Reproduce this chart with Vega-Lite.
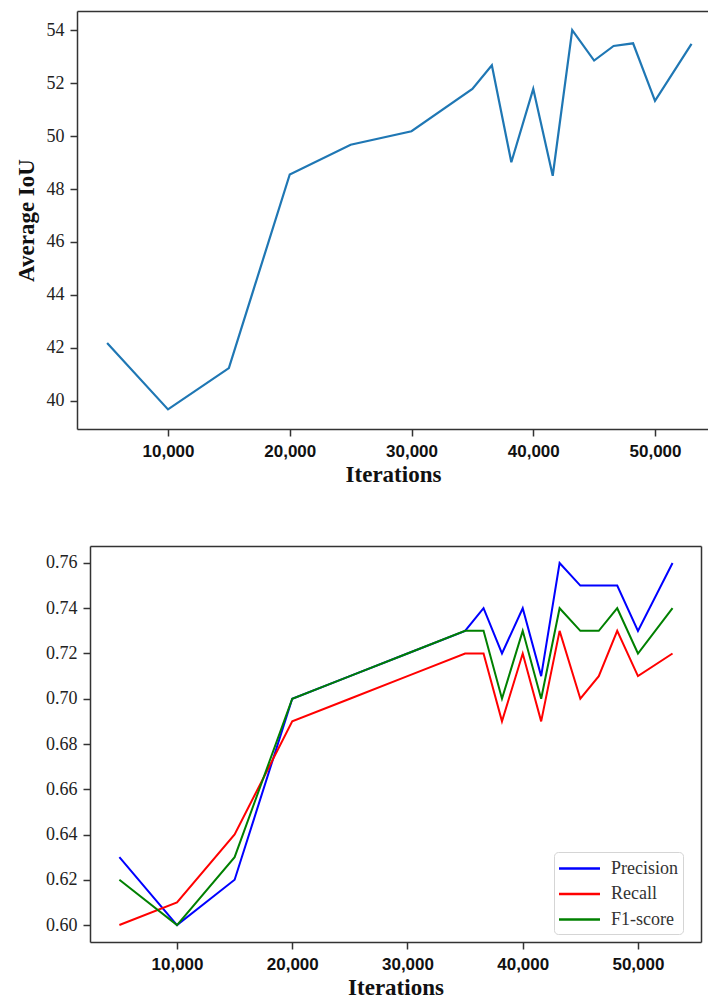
{
  "$schema": "https://vega.github.io/schema/vega-lite/v6.json",
  "background": "white",
  "padding": {"left": 15, "top": 11, "right": 0, "bottom": 0},
  "spacing": 117,
  "bounds": "flush",
  "config": {
    "view": {"stroke": null},
    "axis": {
      "domainColor": "#333333",
      "domainWidth": 1.5,
      "tickColor": "#333333",
      "tickWidth": 1.5,
      "tickSize": 7,
      "grid": false,
      "labelColor": "#222222",
      "titleColor": "#111111"
    }
  },
  "vconcat": [
    {
      "width": 632,
      "height": 418,
      "data": {
        "values": [
          {"iter": 5000, "iou": 42.19},
          {"iter": 10000, "iou": 39.68},
          {"iter": 15000, "iou": 41.24},
          {"iter": 20000, "iou": 48.55},
          {"iter": 25000, "iou": 49.67},
          {"iter": 30000, "iou": 50.18},
          {"iter": 35000, "iou": 51.78},
          {"iter": 36600, "iou": 52.67},
          {"iter": 38200, "iou": 49.01},
          {"iter": 40000, "iou": 51.78},
          {"iter": 41600, "iou": 48.5},
          {"iter": 43200, "iou": 54.0},
          {"iter": 45000, "iou": 52.85},
          {"iter": 46600, "iou": 53.4},
          {"iter": 48200, "iou": 53.5},
          {"iter": 50000, "iou": 51.33},
          {"iter": 53000, "iou": 53.48}
        ]
      },
      "layer": [
        {
          "mark": {"type": "line", "color": "#1f77b4", "strokeWidth": 2.2},
          "encoding": {
            "x": {
              "field": "iter", "type": "quantitative",
              "scale": {"domain": [2526, 54435], "nice": false, "zero": false},
              "axis": {
                "title": "Iterations",
                "values": [10000, 20000, 30000, 40000, 50000],
                "format": ",d",
                "labelFont": "Liberation Sans", "labelFontWeight": "bold", "labelFontSize": 17,
                "labelColor": "#111111", "labelPadding": 7,
                "titleFont": "Liberation Serif", "titleFontWeight": "bold", "titleFontSize": 23,
                "titlePadding": 4
              }
            },
            "y": {
              "field": "iou", "type": "quantitative",
              "scale": {"domain": [38.94, 54.72], "nice": false, "zero": false},
              "axis": {
                "title": "Average IoU",
                "values": [40, 42, 44, 46, 48, 50, 52, 54],
                "labelFont": "Liberation Serif", "labelFontSize": 18, "labelPadding": 6,
                "titleFont": "Liberation Serif", "titleFontWeight": "bold", "titleFontSize": 23,
                "titlePadding": 8
              }
            }
          }
        },
        {
          "mark": {"type": "point", "opacity": 0},
          "encoding": {
            "x": {
              "field": "iter", "type": "quantitative",
              "axis": {"orient": "top", "labels": false, "ticks": false, "title": null}
            },
            "y": {"field": "iou", "type": "quantitative"}
          }
        }
      ],
      "resolve": {"axis": {"x": "independent"}}
    },
    {
      "width": 624,
      "height": 396,
      "data": {
        "values": [
          {"iter": 5000, "metric": "Precision", "value": 0.63},
          {"iter": 10000, "metric": "Precision", "value": 0.60},
          {"iter": 15000, "metric": "Precision", "value": 0.62},
          {"iter": 20000, "metric": "Precision", "value": 0.70},
          {"iter": 25000, "metric": "Precision", "value": 0.71},
          {"iter": 30000, "metric": "Precision", "value": 0.72},
          {"iter": 35000, "metric": "Precision", "value": 0.73},
          {"iter": 36600, "metric": "Precision", "value": 0.74},
          {"iter": 38200, "metric": "Precision", "value": 0.72},
          {"iter": 40000, "metric": "Precision", "value": 0.74},
          {"iter": 41600, "metric": "Precision", "value": 0.71},
          {"iter": 43200, "metric": "Precision", "value": 0.76},
          {"iter": 45000, "metric": "Precision", "value": 0.75},
          {"iter": 46600, "metric": "Precision", "value": 0.75},
          {"iter": 48200, "metric": "Precision", "value": 0.75},
          {"iter": 50000, "metric": "Precision", "value": 0.73},
          {"iter": 53000, "metric": "Precision", "value": 0.76},
          {"iter": 5000, "metric": "Recall", "value": 0.60},
          {"iter": 10000, "metric": "Recall", "value": 0.61},
          {"iter": 15000, "metric": "Recall", "value": 0.64},
          {"iter": 20000, "metric": "Recall", "value": 0.69},
          {"iter": 25000, "metric": "Recall", "value": 0.70},
          {"iter": 30000, "metric": "Recall", "value": 0.71},
          {"iter": 35000, "metric": "Recall", "value": 0.72},
          {"iter": 36600, "metric": "Recall", "value": 0.72},
          {"iter": 38200, "metric": "Recall", "value": 0.69},
          {"iter": 40000, "metric": "Recall", "value": 0.72},
          {"iter": 41600, "metric": "Recall", "value": 0.69},
          {"iter": 43200, "metric": "Recall", "value": 0.73},
          {"iter": 45000, "metric": "Recall", "value": 0.70},
          {"iter": 46600, "metric": "Recall", "value": 0.71},
          {"iter": 48200, "metric": "Recall", "value": 0.73},
          {"iter": 50000, "metric": "Recall", "value": 0.71},
          {"iter": 53000, "metric": "Recall", "value": 0.72},
          {"iter": 5000, "metric": "F1-score", "value": 0.62},
          {"iter": 10000, "metric": "F1-score", "value": 0.60},
          {"iter": 15000, "metric": "F1-score", "value": 0.63},
          {"iter": 20000, "metric": "F1-score", "value": 0.70},
          {"iter": 25000, "metric": "F1-score", "value": 0.71},
          {"iter": 30000, "metric": "F1-score", "value": 0.72},
          {"iter": 35000, "metric": "F1-score", "value": 0.73},
          {"iter": 36600, "metric": "F1-score", "value": 0.73},
          {"iter": 38200, "metric": "F1-score", "value": 0.70},
          {"iter": 40000, "metric": "F1-score", "value": 0.73},
          {"iter": 41600, "metric": "F1-score", "value": 0.70},
          {"iter": 43200, "metric": "F1-score", "value": 0.74},
          {"iter": 45000, "metric": "F1-score", "value": 0.73},
          {"iter": 46600, "metric": "F1-score", "value": 0.73},
          {"iter": 48200, "metric": "F1-score", "value": 0.74},
          {"iter": 50000, "metric": "F1-score", "value": 0.72},
          {"iter": 53000, "metric": "F1-score", "value": 0.74}
        ]
      },
      "layer": [
        {
          "mark": {"type": "line", "strokeWidth": 2},
          "encoding": {
            "x": {
              "field": "iter", "type": "quantitative",
              "scale": {"domain": [2450, 55470], "range": [13, 624], "nice": false, "zero": false},
              "axis": {
                "title": "Iterations",
                "values": [10000, 20000, 30000, 40000, 50000],
                "format": ",d",
                "labelFont": "Liberation Sans", "labelFontWeight": "bold", "labelFontSize": 17,
                "labelColor": "#111111", "labelPadding": 7,
                "titleFont": "Liberation Serif", "titleFontWeight": "bold", "titleFontSize": 23,
                "titlePadding": 4
              }
            },
            "y": {
              "field": "value", "type": "quantitative",
              "scale": {"domain": [0.5925, 0.7675], "nice": false, "zero": false},
              "axis": {
                "title": null,
                "offset": -13,
                "values": [0.60, 0.62, 0.64, 0.66, 0.68, 0.70, 0.72, 0.74, 0.76],
                "format": ".2f",
                "labelFont": "Liberation Serif", "labelFontSize": 18, "labelPadding": 6
              }
            },
            "color": {
              "field": "metric", "type": "nominal",
              "scale": {"domain": ["Precision", "Recall", "F1-score"], "range": ["#0000ff", "#ff0000", "#008000"]},
              "legend": {
                "orient": "none", "legendX": 477, "legendY": 841,
                "title": null,
                "symbolType": "M-2,0H2", "symbolSize": 420, "symbolStrokeWidth": 2.5,
                "symbolOffset": 9,
                "labelFont": "Liberation Serif", "labelFontSize": 18, "labelColor": "#333333",
                "labelOffset": 20, "rowPadding": 4.5,
                "padding": 5, "strokeColor": "#d5d5d5", "fillColor": "white", "cornerRadius": 4
              }
            }
          }
        },
        {
          "mark": {"type": "point", "opacity": 0},
          "encoding": {
            "x": {
              "field": "iter", "type": "quantitative",
              "axis": {"orient": "top", "labels": false, "ticks": false, "title": null}
            },
            "y": {
              "field": "value", "type": "quantitative",
              "axis": {"orient": "right", "labels": false, "ticks": false, "title": null}
            }
          }
        }
      ],
      "resolve": {"axis": {"x": "independent", "y": "independent"}}
    }
  ]
}
